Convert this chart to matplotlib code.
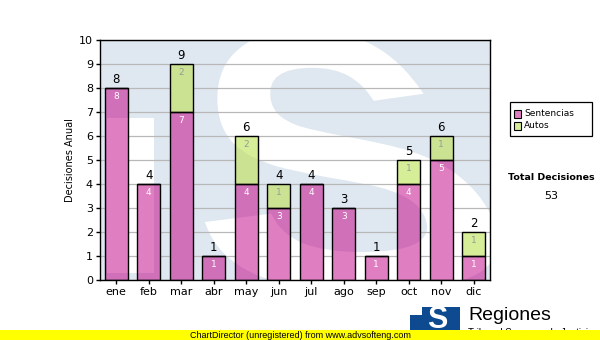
import matplotlib
matplotlib.use("Agg")
import matplotlib.pyplot as plt
import numpy as np
from matplotlib.font_manager import FontProperties
from matplotlib.patches import PathPatch, Rectangle
from matplotlib.path import Path
from matplotlib.textpath import TextPath

meses = ["ene", "feb", "mar", "abr", "may", "jun", "jul", "ago", "sep", "oct", "nov", "dic"]
sentencias = [8, 4, 7, 1, 4, 3, 4, 3, 1, 4, 5, 1]
autos = [0, 0, 2, 0, 2, 1, 0, 0, 0, 1, 1, 1]
total = sum(sentencias) + sum(autos)

PINK_DARK, PINK_LIGHT = "#d070b8", "#e07ec2"
GREEN_DARK, GREEN_LIGHT = "#cbe292", "#d6ee98"
WALL = "#dfe8f1"
W, H = 600, 340


def fx(px):
    return px / W


def fy(py):
    return 1 - py / H


def px_to_data(px, py):
    return (px - 100) / 32.5 - 0.5, (280 - py) / 24


fig = plt.figure(figsize=(6, 3.4), dpi=100)
ax = fig.add_axes([fx(100), fy(280), 390 / W, 240 / H])
ax.set_facecolor(WALL)
ax.set_xlim(-0.5, 11.5)
ax.set_ylim(0, 10)

# wallpaper logo: a big "S" that widens towards the bottom, plus a block on the left
glyph = TextPath((0, 0), "S", size=1, prop=FontProperties(family="Liberation Sans", weight="bold"))
ext = glyph.get_extents()
u = (glyph.vertices[:, 0] - ext.x0) / ext.width
v = (glyph.vertices[:, 1] - ext.y0) / ext.height
py = 292 - 262 * v
spread = 0.9 + 0.00192 * (py - 111)
px = 205 + 260 * u * spread
s_path = Path(np.column_stack(px_to_data(px, py)), glyph.codes)

bx0, by0 = px_to_data(107, 273)
bx1, by1 = px_to_data(154, 118)
block = Path([(bx0, by0), (bx1, by0), (bx1, by1), (bx0, by1), (bx0, by0)],
             [Path.MOVETO, Path.LINETO, Path.LINETO, Path.LINETO, Path.CLOSEPOLY])
white_area = PathPatch(Path.make_compound_path(block, s_path), facecolor="white",
                       edgecolor="none", zorder=0.2)
ax.add_patch(white_area)

ax.set_axisbelow(True)
ax.yaxis.grid(True, color="#b8b8b8", lw=0.9)

x = list(range(len(meses)))
tops = [s + a for s, a in zip(sentencias, autos)]
w = 0.7
for bottom, vals, dark, light in [(None, sentencias, PINK_DARK, PINK_LIGHT),
                                   (sentencias, autos, GREEN_DARK, GREEN_LIGHT)]:
    ax.bar(x, vals, w, bottom=bottom, color=dark, zorder=2)
    lit = ax.bar(x, vals, w, bottom=bottom, color=light, zorder=2.1)
    for b in lit:
        b.set_clip_path(white_area)
    ax.bar(x, vals, w, bottom=bottom, fill=False, edgecolor="black", lw=1.0, zorder=3)

for i in x:
    s, a = sentencias[i], autos[i]
    ax.annotate(str(s), (i, s), xytext=(0, -3), textcoords="offset points",
                ha="center", va="top", fontsize=6.5, color="white", zorder=4,
                family="DejaVu Sans")
    if a:
        ax.annotate(str(a), (i, s + a), xytext=(0, -3), textcoords="offset points",
                    ha="center", va="top", fontsize=6.5, color="#9a9a9a", zorder=4,
                    family="DejaVu Sans")
    ax.annotate(str(tops[i]), (i, tops[i]), xytext=(0, 1.5), textcoords="offset points",
                ha="center", va="bottom", fontsize=8.5, color="black", zorder=4,
                family="DejaVu Sans")

ax.set_xticks(x)
ax.set_xticklabels(meses)
ax.set_yticks(range(11))
ax.tick_params(axis="both", length=3, width=1, color="black", labelsize=8, pad=2)
for lab in ax.get_xticklabels() + ax.get_yticklabels():
    lab.set_family("DejaVu Sans")
for sp in ax.spines.values():
    sp.set_linewidth(1.0)
    sp.set_color("black")
    sp.set_zorder(5)
ax.set_ylabel("Decisiones Anual", fontsize=7, family="DejaVu Sans", labelpad=3)

# legend box
fig.patches.append(Rectangle((fx(510), fy(136)), 82 / W, 34 / H, transform=fig.transFigure,
                             facecolor="white", edgecolor="black", lw=0.9, figure=fig))
for ly, color, name in [(114, PINK_LIGHT, "Sentencias"), (126, GREEN_LIGHT, "Autos")]:
    fig.patches.append(Rectangle((fx(514), fy(ly + 3.5)), 7 / W, 7 / H,
                                 transform=fig.transFigure, facecolor=color,
                                 edgecolor="black", lw=0.8, figure=fig))
    fig.text(fx(524), fy(ly), name, fontsize=6.5, family="DejaVu Sans", va="center")

fig.text(fx(551), fy(178), "Total Decisiones", fontsize=6.8, weight="bold",
         family="DejaVu Sans", ha="center", va="center")
fig.text(fx(551), fy(196), str(total), fontsize=8, family="DejaVu Sans",
         ha="center", va="center")

# footer logo
fig.patches.append(Rectangle((fx(410), fy(332)), 50 / W, 25 / H, transform=fig.transFigure,
                             facecolor="#0d4a8f", edgecolor="none", figure=fig, zorder=1))
fig.patches.append(Rectangle((fx(410), fy(315)), 12 / W, 8 / H, transform=fig.transFigure,
                             facecolor="white", edgecolor="none", figure=fig, zorder=1.5))
fig.text(fx(437), fy(320), "S", fontsize=22, weight="bold", color="white",
         family="Liberation Sans", ha="center", va="center", zorder=2)
fig.text(fx(468), fy(316), "Regiones", fontsize=14, family="Liberation Sans",
         ha="left", va="center", zorder=2)
fig.text(fx(468), fy(328), "Tribunal Supremo de Justicia", fontsize=7,
         family="Liberation Sans", ha="left", va="top", zorder=2)

# unregistered banner
fig.patches.append(Rectangle((0, 0), 1, 10 / H, transform=fig.transFigure,
                             facecolor="#ffff00", edgecolor="none", figure=fig, zorder=10))
fig.text(fx(300), fy(335), "ChartDirector (unregistered) from www.advsofteng.com",
         fontsize=6.5, family="Liberation Sans", ha="center", va="center", zorder=11)

fig.savefig("out.png", dpi=100)
